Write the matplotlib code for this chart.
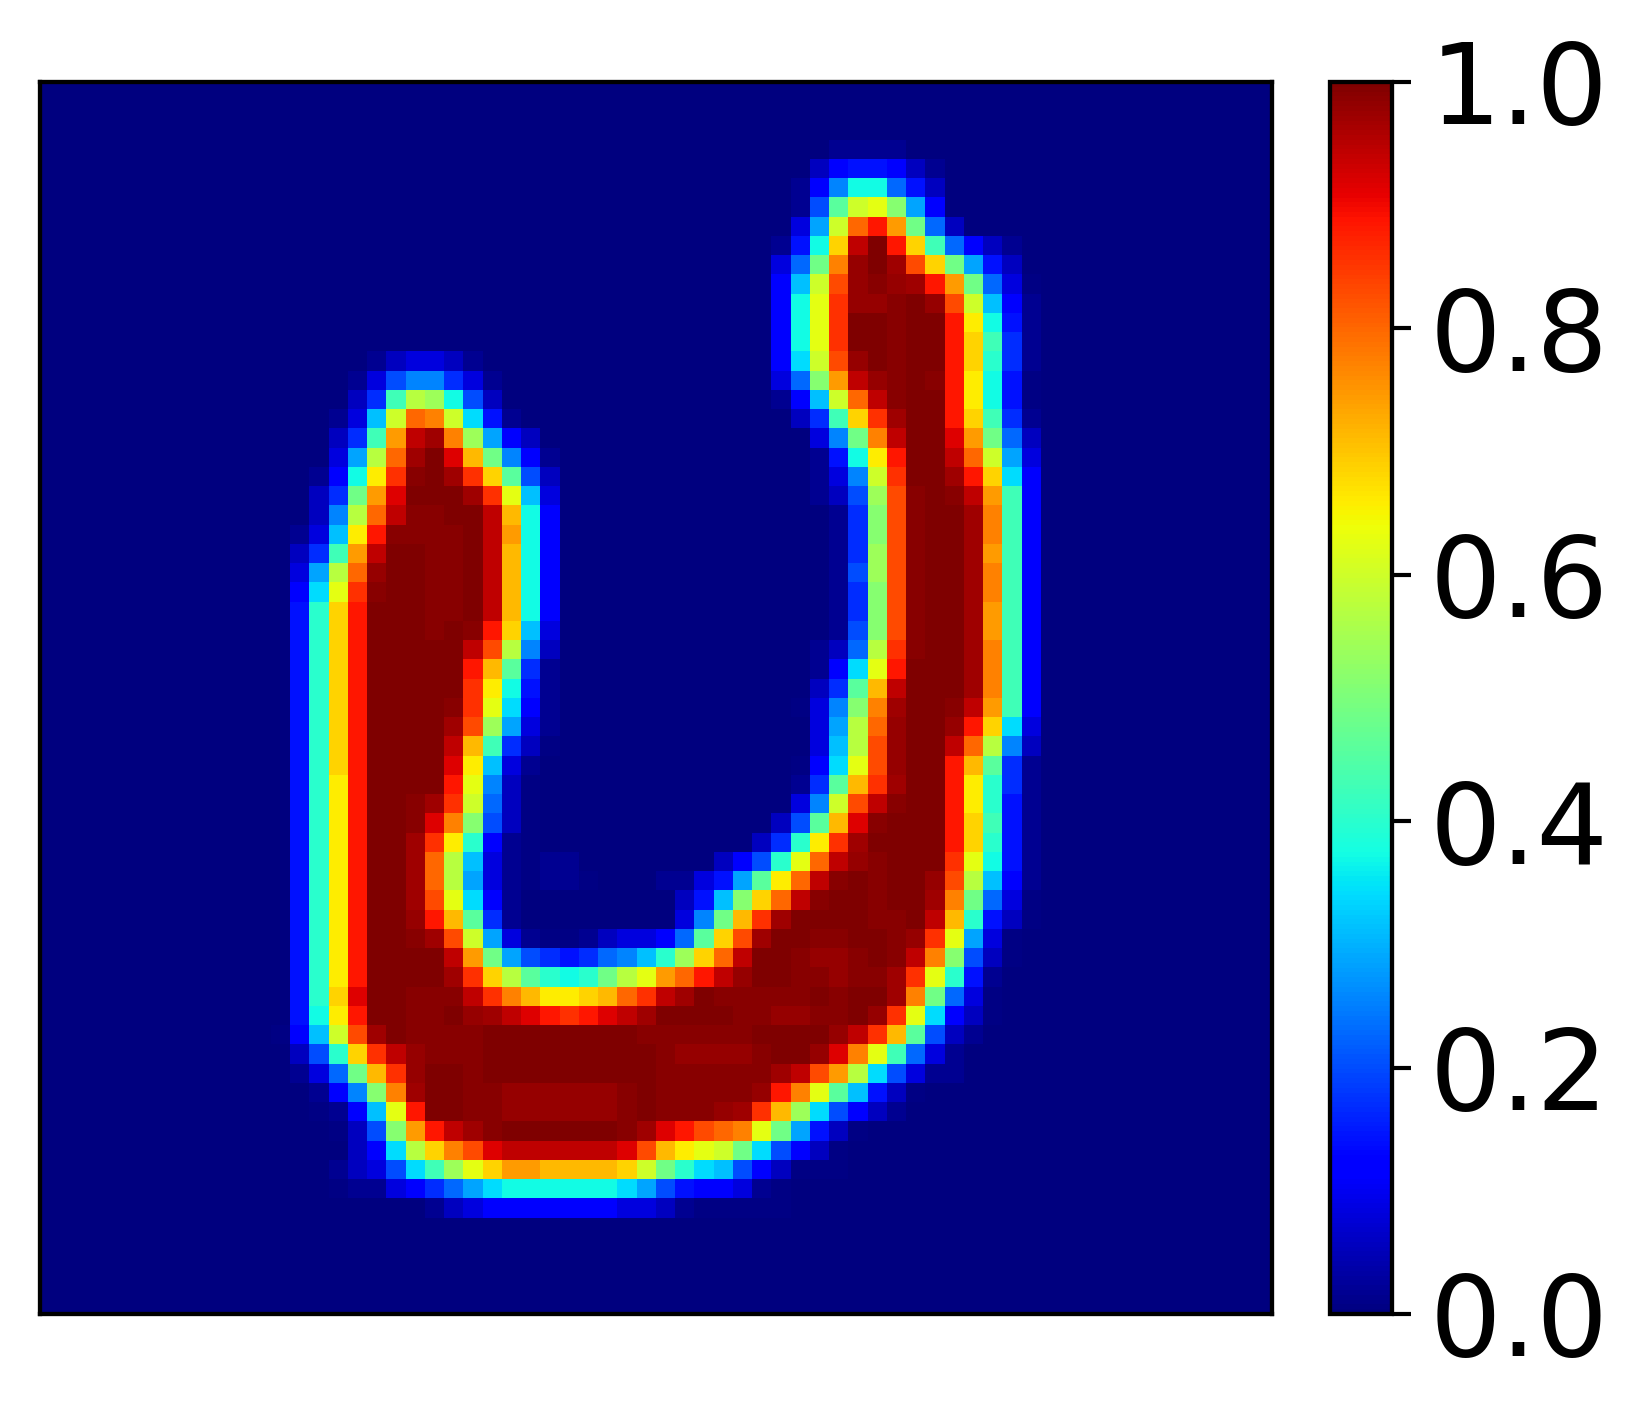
import numpy as np
import matplotlib
matplotlib.use('Agg')
import matplotlib.pyplot as plt

GRID_SIZE = 64

# cell levels, one character per cell: 0-9a-z runs from 0 to 1 in 35 steps,
# ':' and 1 are the faint rim tones, Y and Z the two lighter tones of the top end
LEVEL_CHARS = '0123456789abcdefghijklmnopqrstuvwxyz'
EXTRA_LEVELS = {':': 0.005, '1': 0.018, 'Y': 0.98, 'Z': 0.99}

# right arm of the shape, rows 3 to 43
right_first_row = 3
right_cols = [41, 40, 39, 39, 39, 38, 38, 38, 38, 38, 38, 38, 38, 38, 39,
              40, 40, 40, 40, 41, 41, 41, 41, 41, 41, 41, 40, 40, 40, 39,
              40, 40, 39, 39, 39, 38, 37, 35, 32, 33, 33]
right_levels = [
    '1111', '2455421', '149dd852', '17glmia4', '3alsvqh82',
    '15doxzvof8421', '38hrYzytoha52', '4bltYZYyvqh83:', '4dmuYYZzYtlb41',
    '4dmuzzZzzvnd51', '4dmuzzZzzvof61', '4cltYzZzzvoe61', '38iqxYZzZvnd5:',
    '14blsxZzzvnd5:', '26fouyzzvof61', '39hrxzzwqh82', '15dnvzzxsla3',
    '139luzzyvoc4', '127jtZzZxqf4', '16itZzzyrf4', '16itZzzyrf4',
    '16jtZzzyqf4', '17jtZzzyrf4', '16itZzzyrf4', '16itZzzyqf4',
    '17itZzzyqf4', '128kuZzzyrf4', '14cmvzzzyrf4', '26gpxzzzyrf4',
    ':39iryzzZxqf4', '3aksYzzYvoc3', '3bktYzzxsk92', ':4cmtYzzvpg61',
    '16gpuyzzvne61', '39ltxZzzvne51', '27gpwZzzzvof51', '26enuyzzzzvoe51',
    '247emsxYZzzzumd51', '1135agnsxZzZzzYtkb41', '25biosxZzzZzzyrh83:',
    '39hpuyzzzzZZzxpe52:',
]

# left arm, rows 14 to 43
left_first_row = 14
left_cols = [17, 16, 16, 15, 15, 15, 14, 14, 14, 13, 13, 13, 13, 13, 13,
             13, 13, 13, 13, 13, 13, 13, 13, 13, 13, 13, 13, 13, 13, 13]
left_levels = [
    '123321', '13799631', '26fkjd72', '13blsrlc51', '26fqxyrja42',
    '3aksyzwph941', '14dnuZzyuog72', '26hqwzzzyumb3', '29ksxZZzzxpd4',
    '13bnvZZZZzxqd4', '26fqxzzZZzxpd4', '3aksYzzZZzxpd4', '4cmuZzzZZzxpd4',
    '5eovzzzZZzxpd4', '5eovzzzZzZvob3', '5eovzzzzzxtk92', '5eovzzzzzvpg61',
    '5eovzzzzzund51', '5eovzzzzZumc41', '5eovzzzzytja31', '5eovzzzzxpf62:',
    '5eovzzzzwnb31', '5envzzzzvm92:', '5envzzZyul82:', '5envzzZwri72:',
    '5envzzyune41:', '5envzzyskb31:11', '5envzzyska31:11:', '5envzzytmc41',
    '5envzzYvpg61',
]

# bottom bend, rows 44 to 58
bottom_first_row = 44
bottom_cols = [13, 13, 13, 13, 13, 12, 13, 13, 14, 14, 15, 16, 15, 15, 20]
bottom_levels = [
    '5envzzZytla31::12334' + '8gotyzzZZzzZYuma3:',
    '5envzzzzxqh' + 'a765689be' + 'josxzzZYYZzZxri72:',
    '5envzzzzyuokgedehkmq' + 'svxYzzZZYZZyume51',
    '5eowzzZZZxurpnnopsux' + 'yzZZZZZzZzzyrh83:',
    '5dnvzzZZzYyxwvuvwxyz' + 'zzzZZYYZZzYumc42:',
    ':4blty' + 'zZZZZ' + 'zzzzzzzz' + 'ZZZZZZ' + 'zzzz' + 'Yxupg721',
    '27eouxY' + 'ZZZ' + 'zzzzzzzzz' + 'ZYYYYZzzY' + 'wrmf831',
    '138hpuY' + 'zzZ' + 'zzzzzzzzz' + 'ZZZZZZ' + 'yxtqkc7311',
    '149iry' + 'zzZZ' + 'YYYYYY' + 'Zz' + 'ZZZZZ' + 'Yvrmgb52:',
    ':14bmv' + 'zzZZ' + 'YYYYYY' + 'Zz' + 'ZZZYy' + 'upjc7421',
    ':27iqvxyZ' + 'zzzzzz' + 'Zy' + 'wvtsrmha52:',
    '24ckortw' + 'xxxxxx' + 'wt' + 'pnmlhc742:',
    '1237cfjmo' + 'qqpppp' + 'ol' + 'hecb742:::',
    ':113468ac' + 'dddddd' + 'ca' + '754431:',
    '1234' + '444444' + '33' + '21' + ':::::',
]

cbar_ticks = [0.0, 0.2, 0.4, 0.6, 0.8, 1.0]


def level_value(char):
    if char in EXTRA_LEVELS:
        return EXTRA_LEVELS[char]
    return LEVEL_CHARS.index(char) / 35.


def fill_rows(grid, first_row, cols, levels):
    for i, (col, row_levels) in enumerate(zip(cols, levels)):
        for j, char in enumerate(row_levels):
            grid[first_row + i, col + j] = level_value(char)


grid = np.zeros((GRID_SIZE, GRID_SIZE))
fill_rows(grid, right_first_row, right_cols, right_levels)
fill_rows(grid, left_first_row, left_cols, left_levels)
fill_rows(grid, bottom_first_row, bottom_cols, bottom_levels)

W, H = 1647., 1419.
fig = plt.figure(figsize=(W / 100, H / 100), dpi=100)
ax = fig.add_axes([40 / W, 1 - 1314 / H, 1232 / W, 1232 / H])
cax = fig.add_axes([1330 / W, 1 - 1314 / H, 62 / W, 1232 / H])

im = ax.imshow(grid, cmap='jet', vmin=0., vmax=1., interpolation='nearest', aspect='auto')
ax.set_xticks([])
ax.set_yticks([])
for spine in ax.spines.values():
    spine.set_linewidth(3.1)

cbar = fig.colorbar(im, cax=cax, ticks=cbar_ticks)
cbar.ax.set_yticklabels(['%.1f' % t for t in cbar_ticks])
cbar.ax.tick_params(labelsize=81, width=3., length=13.5, pad=13.5)
cbar.outline.set_linewidth(3.1)

fig.savefig('out.png', dpi=100)
